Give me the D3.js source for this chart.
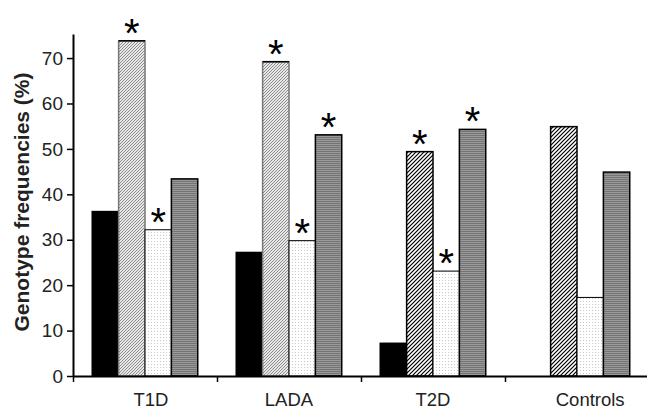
<!DOCTYPE html>
<html>
<head>
<meta charset="utf-8">
<script src="https://cdn.jsdelivr.net/npm/d3@7"></script>
<style>
  body { margin: 0; background: #fff; }
  svg { display: block; font-family: "Liberation Sans", Arial, sans-serif; }
</style>
</head>
<body>
<div id="chart"></div>
<script>
// groups and genotype series
var groups = ["T1D", "LADA", "T2D", "Controls"];
var series = ["g1", "g2", "g3", "g4"];
var g1 = [36.2, 27.2, 7.2, 0];
var g2 = [73.8, 69.2, 49.4, 54.9];
var g3 = [32.2, 29.8, 23.1, 17.3];
var g4 = [43.4, 53.1, 54.3, 44.9];
// significance marks (1 = asterisk)
var star2 = [1, 1, 1, 0];
var star3 = [1, 1, 1, 0];
var star4 = [0, 1, 1, 0];
var yTicks = [0, 10, 20, 30, 40, 50, 60, 70];

var W = 647, H = 412;
var plotLeft = 73, plotRight = 649, plotTop = 34, plotBase = 376;

var svg = d3.select("#chart").append("svg")
    .attr("width", W)
    .attr("height", H);

// fill patterns
var defs = svg.append("defs");

var p1 = defs.append("pattern").attr("id", "hatchLight")
    .attr("patternUnits", "userSpaceOnUse")
    .attr("width", 3).attr("height", 3);
p1.append("rect").attr("width", 3).attr("height", 3).attr("fill", "#e8e8e8");
p1.append("path").attr("d", "M-1,1 l2,-2 M0,3 l3,-3 M2,4 l2,-2")
    .attr("stroke", "#8c8c8c").attr("stroke-width", 1);

var p2 = defs.append("pattern").attr("id", "hatchDark")
    .attr("patternUnits", "userSpaceOnUse")
    .attr("width", 4).attr("height", 4);
p2.append("rect").attr("width", 4).attr("height", 4).attr("fill", "#fff");
p2.append("path").attr("d", "M-1,1 l2,-2 M0,4 l4,-4 M3,5 l2,-2")
    .attr("stroke", "#000").attr("stroke-width", 1.2);

var p3 = defs.append("pattern").attr("id", "dots")
    .attr("patternUnits", "userSpaceOnUse")
    .attr("width", 3).attr("height", 3);
p3.append("rect").attr("width", 3).attr("height", 3).attr("fill", "#fff");
p3.append("rect").attr("x", 1).attr("y", 1).attr("width", 1).attr("height", 1).attr("fill", "#c8c8c8");

var p4 = defs.append("pattern").attr("id", "stripes")
    .attr("patternUnits", "userSpaceOnUse")
    .attr("width", 4).attr("height", 2);
p4.append("rect").attr("width", 4).attr("height", 2).attr("fill", "#9a9a9a");
p4.append("rect").attr("y", 1).attr("width", 4).attr("height", 1).attr("fill", "#747474");

// scales
var x = d3.scaleBand()
    .domain(groups)
    .range([plotLeft, plotRight])
    .paddingInner(0)
    .paddingOuter(0);

var xs = d3.scaleBand()
    .domain(series)
    .range([0, x.bandwidth()])
    .paddingInner(0)
    .paddingOuter(0.73);

var y = d3.scaleLinear()
    .domain([0, 75.3])
    .range([plotBase, plotTop]);

var fills = {g1: "#000", g2: null, g3: "url(#dots)", g4: "url(#stripes)"};
var values = {g1: g1, g2: g2, g3: g3, g4: g4};
var stars = {g1: null, g2: star2, g3: star3, g4: star4};

var data = [];
groups.forEach(function (g, i) {
    series.forEach(function (s) {
        data.push({group: g, i: i, key: s, value: values[s][i],
            star: stars[s] ? stars[s][i] : 0});
    });
});

function fillFor(d) {
    if (d.key === "g2") return d.i < 2 ? "url(#hatchLight)" : "url(#hatchDark)";
    return fills[d.key];
}

// bars
svg.append("g").selectAll("rect")
    .data(data.filter(d => d.value > 0))
    .join("rect")
    .attr("x", d => x(d.group) + xs(d.key))
    .attr("y", d => y(d.value))
    .attr("width", xs.bandwidth())
    .attr("height", d => plotBase - y(d.value))
    .attr("fill", fillFor)
    .attr("stroke", d => (d.key === "g2" && d.i < 2) ? "#777" : "#000")
    .attr("stroke-width", d => d.key === "g3" ? 1 : 1.5);

// black top edge on the light hatched bars
svg.append("g").selectAll("line")
    .data(data.filter(d => d.key === "g2" && d.i < 2))
    .join("line")
    .attr("x1", d => x(d.group) + xs(d.key))
    .attr("x2", d => x(d.group) + xs(d.key) + xs.bandwidth())
    .attr("y1", d => y(d.value))
    .attr("y2", d => y(d.value))
    .attr("stroke", "#000")
    .attr("stroke-width", 1.5);

// asterisks
svg.append("g").selectAll("text")
    .data(data.filter(d => d.star))
    .join("text")
    .attr("x", d => x(d.group) + xs(d.key) + xs.bandwidth() / 2)
    .attr("y", d => y(d.value) + 6)
    .attr("text-anchor", "middle")
    .attr("font-size", 40)
    .attr("fill", "#000")
    .text("*");

// y axis
var yAxis = svg.append("g")
    .attr("transform", `translate(${plotLeft},0)`)
    .call(d3.axisLeft(y).tickValues(yTicks).tickSize(6).tickSizeOuter(0).tickPadding(4));
yAxis.select(".domain").attr("stroke-width", 2);
yAxis.selectAll(".tick line").attr("stroke-width", 1.5);
yAxis.selectAll("text")
    .attr("font-size", 19)
    .attr("font-family", "Liberation Sans, Arial, sans-serif")
    .attr("fill", "#222");

// x axis, ticks at group boundaries
var xb = d3.scaleLinear().domain([0, groups.length]).range([plotLeft, plotRight]);
var xAxis = svg.append("g")
    .attr("transform", `translate(0,${plotBase})`)
    .call(d3.axisBottom(xb).tickValues(d3.range(groups.length + 1)).tickFormat("").tickSize(6).tickSizeOuter(0));
xAxis.select(".domain").attr("stroke-width", 2);
xAxis.selectAll(".tick line").attr("stroke-width", 1.5);

svg.append("g").selectAll("text")
    .data(groups)
    .join("text")
    .attr("x", function (g, i) {
        var shown = data.filter(d => d.i === i && d.value > 0);
        var x0 = d3.min(shown, d => x(g) + xs(d.key));
        var x1 = d3.max(shown, d => x(g) + xs(d.key) + xs.bandwidth());
        return (x0 + x1) / 2 + (i === 0 ? 6 : 0);
    })
    .attr("y", 406)
    .attr("text-anchor", "middle")
    .attr("font-size", 18.5)
    .attr("fill", "#222")
    .text(d => d);

// y title
svg.append("text")
    .attr("transform", "translate(29,202) rotate(-90)")
    .attr("text-anchor", "middle")
    .attr("font-size", 21)
    .attr("font-weight", "bold")
    .attr("fill", "#222")
    .text("Genotype frequencies (%)");
</script>
</body>
</html>
